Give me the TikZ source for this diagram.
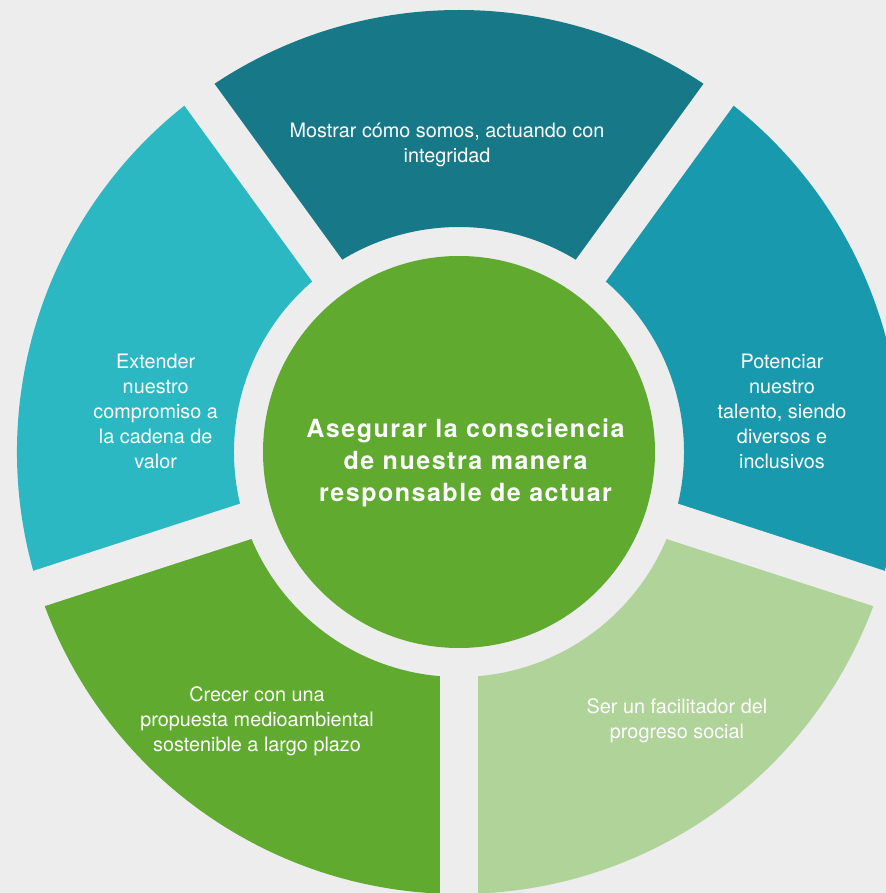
\documentclass[tikz,border=0pt]{standalone}
\usepackage{fontspec}
\setmainfont{TeX Gyre Heros}
\definecolor{fondo}{HTML}{EDEDED}
\definecolor{arriba}{HTML}{177987}
\definecolor{izq}{HTML}{2BB8C3}
\definecolor{der}{HTML}{1899AD}
\definecolor{verde}{HTML}{5FAA2F}
\definecolor{verdecl}{HTML}{B0D39A}
\begin{document}
\begin{tikzpicture}[x=0.025cm,y=0.025cm,
	texto/.style={text=white,align=center,inner sep=0pt,font=\fontsize{14.1}{17.8}\selectfont},
	hueco/.style={draw=fondo,line width=0.925cm}]
	\fill[fondo] (-459,-441) rectangle (427,452);
	\useasboundingbox (-459,-441) rectangle (427,452);
	\clip (-459,-441) rectangle (427,452);
	\foreach \c/\a in {arriba/54,izq/126,verde/198,verdecl/270,der/342}
		\fill[\c] (\a:225) arc[start angle=\a,delta angle=72,radius=225] -- (\a+72:442) arc[start angle=\a+72,delta angle=-72,radius=442] -- cycle;
	\foreach \a in {54,126,198,270,342}
		\draw[hueco] (0,0) -- (\a:470);
	\fill[verde] (0,0) circle (196);
	\node[texto] (mostrar) at (-12,306.6) {Mostrar cómo somos, actuando con\\integridad};
	\node[texto] (extender) at (-303.3,41) {Extender\\nuestro\\compromiso a\\la cadena de\\valor};
	\node[texto] (potenciar) at (323,41) {Potenciar\\nuestro\\talento, siendo\\diversos e\\inclusivos};
	\node[texto] (crecer) at (-202,-269) {Crecer con una\\propuesta medioambiental\\sostenible a largo plazo};
	\node[texto] (facilitador) at (218,-268.5) {Ser un facilitador del\\progreso social};
	\node[texto,font=\fontsize{17.8}{23}\selectfont\bfseries\addfontfeature{LetterSpace=6}] (asegurar) at (6.5,-11) {Asegurar la consciencia\\de nuestra manera\\responsable de actuar};
\end{tikzpicture}
\end{document}
